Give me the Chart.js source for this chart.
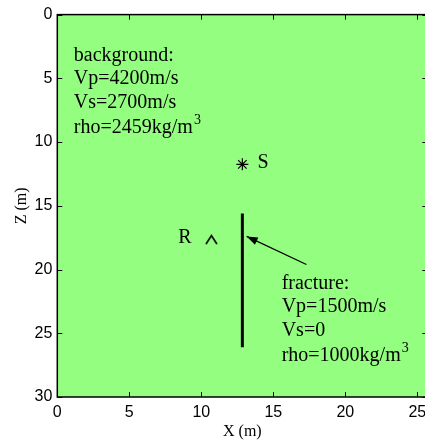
<!DOCTYPE html>
<html>
<head>
<meta charset="utf-8">
<script src="https://cdn.jsdelivr.net/npm/chart.js@4"></script>
<style>
  html, body { margin: 0; padding: 0; background: #fff; overflow: hidden; }
  #wrap { width: 425px; height: 442px; overflow: hidden; }
</style>
</head>
<body>
<div id="wrap"><canvas id="model" width="440" height="442"></canvas></div>
<script>
// model geometry (metres)
const xRange = [0, 25.7];
const zRange = [0, 30];
const sourcePos = [12.85, 11.75];    // S, asterisk
const receiverPos = [10.7, 17.65];   // R, caret
const fractureX = [12.85, 12.85];
const fractureZ = [15.6, 26.1];
const arrowX = [17.3, 13.15];        // tail -> head
const arrowZ = [19.6, 17.4];

// text notes
const bgLines = ['background:', 'Vp=4200m/s', 'Vs=2700m/s', 'rho=2459kg/m^3'];
const fracLines = ['fracture:', 'Vp=1500m/s', 'Vs=0', 'rho=1000kg/m^3'];
const notes = [
  {lines: bgLines, x: 1.15, z: 3.63},
  {lines: fracLines, x: 15.58, z: 21.5},
  {lines: ['S'], x: 13.9, z: 12.0},
  {lines: ['R'], x: 8.4, z: 17.95}
];

const serif = '"Liberation Serif", "Times New Roman", serif';
const sans = '"Liberation Sans", Arial, sans-serif';

// caret marker for the receiver
let caret = document.createElement('canvas');
caret.width = 13; caret.height = 11;
let cc = caret.getContext('2d');
cc.strokeStyle = '#000';
cc.lineWidth = 1.6;
cc.beginPath();
cc.moveTo(1, 10); cc.lineTo(6.5, 1.5); cc.lineTo(12, 10);
cc.stroke();

const boxPlugin = {
  id: 'box',
  beforeDraw(chart) {
    let a = chart.chartArea, ctx = chart.ctx;
    ctx.save();
    ctx.fillStyle = '#94fe80';
    ctx.fillRect(a.left, a.top, a.right - a.left, a.bottom - a.top);
    ctx.restore();
  },
  afterDraw(chart) {
    let a = chart.chartArea, ctx = chart.ctx;
    let xs = chart.scales.x, ys = chart.scales.y;
    ctx.save();
    ctx.strokeStyle = '#000';
    ctx.lineWidth = 1.5;
    ctx.strokeRect(a.left, a.top, a.right - a.left, a.bottom - a.top);
    // inward ticks on all sides
    ctx.lineWidth = 1;
    ctx.beginPath();
    xs.ticks.forEach(t => {
      let px = Math.round(xs.getPixelForValue(t.value)) + 0.5;
      ctx.moveTo(px, a.bottom); ctx.lineTo(px, a.bottom - 5);
      ctx.moveTo(px, a.top); ctx.lineTo(px, a.top + 5);
    });
    ys.ticks.forEach(t => {
      let py = Math.round(ys.getPixelForValue(t.value)) + 0.5;
      ctx.moveTo(a.left, py); ctx.lineTo(a.left + 5, py);
      ctx.moveTo(a.right, py); ctx.lineTo(a.right - 5, py);
    });
    ctx.stroke();

    // arrow head at the end of the arrow dataset
    let pts = chart.getDatasetMeta(2).data;
    let p0 = pts[0], p1 = pts[1];
    let ang = Math.atan2(p1.y - p0.y, p1.x - p0.x);
    let len = 11, half = 4;
    ctx.fillStyle = '#000';
    ctx.beginPath();
    ctx.moveTo(p1.x, p1.y);
    ctx.lineTo(p1.x - len * Math.cos(ang) + half * Math.sin(ang), p1.y - len * Math.sin(ang) - half * Math.cos(ang));
    ctx.lineTo(p1.x - len * Math.cos(ang) - half * Math.sin(ang), p1.y - len * Math.sin(ang) + half * Math.cos(ang));
    ctx.closePath();
    ctx.fill();

    // text notes
    ctx.textBaseline = 'alphabetic';
    ctx.textAlign = 'left';
    notes.forEach(n => {
      let x0 = xs.getPixelForValue(n.x);
      let y0 = ys.getPixelForValue(n.z);
      n.lines.forEach((line, i) => {
        let parts = line.split('^');
        let y = y0 + i * 23.5 + (parts.length > 1 ? 2 : 0);
        ctx.font = '20px ' + serif;
        ctx.fillText(parts[0], x0, y);
        if (parts.length > 1) {
          let w = ctx.measureText(parts[0]).width;
          ctx.font = '14px ' + serif;
          ctx.fillText(parts[1], x0 + w + 1, y - 9);
        }
      });
    });
    ctx.restore();
  }
};

new Chart(document.getElementById('model'), {
  type: 'scatter',
  data: {
    datasets: [
      {
        data: [{x: fractureX[0], y: fractureZ[0]}, {x: fractureX[1], y: fractureZ[1]}],
        showLine: true, borderColor: '#000', borderWidth: 3, pointRadius: 0
      },
      {
        data: [{x: sourcePos[0], y: sourcePos[1]}],
        pointStyle: 'star', pointRadius: 6, borderColor: '#000', borderWidth: 1.2
      },
      {
        data: [{x: arrowX[0], y: arrowZ[0]}, {x: arrowX[1], y: arrowZ[1]}],
        showLine: true, borderColor: '#000', borderWidth: 1.2, pointRadius: 0
      },
      {
        data: [{x: receiverPos[0], y: receiverPos[1]}],
        pointStyle: caret, pointRadius: 6
      }
    ]
  },
  options: {
    responsive: false,
    animation: false,
    devicePixelRatio: 1,
    layout: { padding: { top: 9, right: 12.6, left: 0, bottom: 0 } },
    plugins: { legend: { display: false }, tooltip: { enabled: false } },
    scales: {
      x: {
        type: 'linear', min: xRange[0], max: xRange[1],
        grid: { display: false, drawTicks: false },
        border: { display: false },
        ticks: { stepSize: 5, includeBounds: false, padding: 6, color: '#000', font: { family: sans, size: 16 } },
        title: { display: true, text: 'X (m)', color: '#000', padding: { top: 0, bottom: 1 }, font: { family: serif, size: 16 } },
        afterFit: s => { s.height = 45; }
      },
      y: {
        type: 'linear', min: zRange[0], max: zRange[1], reverse: true,
        grid: { display: false, drawTicks: false },
        border: { display: false },
        ticks: { stepSize: 5, includeBounds: false, padding: 5, color: '#000', font: { family: sans, size: 16 } },
        title: { display: true, text: 'Z (m)', color: '#000', padding: { top: 12.4, bottom: 0 }, font: { family: serif, size: 16 } },
        afterFit: s => { s.width = 57.3; }
      }
    }
  },
  plugins: [boxPlugin]
});
</script>
</body>
</html>
